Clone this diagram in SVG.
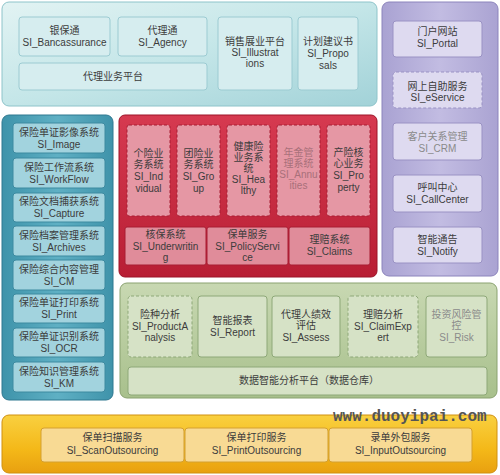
<svg xmlns="http://www.w3.org/2000/svg" width="500" height="475" viewBox="0 0 500 475">
<defs>
<linearGradient id="gTeal" x1="0" y1="0" x2="1" y2="1"><stop offset="0" stop-color="#e2f3f3"/><stop offset="0.5" stop-color="#c4e6e8"/><stop offset="1" stop-color="#a2d2d8"/></linearGradient>
<linearGradient id="gBlue" x1="0" y1="0" x2="1" y2="0"><stop offset="0" stop-color="#3e93aa"/><stop offset="0.5" stop-color="#5fb0c4"/><stop offset="1" stop-color="#3f93aa"/></linearGradient>
<linearGradient id="gRed" x1="0" y1="0" x2="0" y2="1"><stop offset="0" stop-color="#d63a50"/><stop offset="1" stop-color="#b81e34"/></linearGradient>
<linearGradient id="gPurple" x1="0" y1="0" x2="1" y2="0"><stop offset="0" stop-color="#a9a2d2"/><stop offset="0.5" stop-color="#c2bce2"/><stop offset="1" stop-color="#aaa3d2"/></linearGradient>
<linearGradient id="gGreen" x1="0" y1="0" x2="0" y2="1"><stop offset="0" stop-color="#c8d8b2"/><stop offset="1" stop-color="#a8c08c"/></linearGradient>
<linearGradient id="gOrange" x1="0" y1="0" x2="0" y2="1"><stop offset="0" stop-color="#f9d040"/><stop offset="0.6" stop-color="#f4b818"/><stop offset="1" stop-color="#e8a010"/></linearGradient>
</defs>
<style>
text{font-family:"Liberation Sans","Noto Sans CJK SC",sans-serif;font-size:10px;fill:#3c3c3c;text-anchor:middle}
.fade{fill:#8a8a8a}
.fadeR{fill:#a8707a}
.tealBox{fill:#d6edef;stroke:#9ccbd2;stroke-width:1}
.blueBox{fill:#a2d3de;stroke:#3d8aa0;stroke-width:1}
.redBox{fill:#e597a4;stroke:#a81c32;stroke-width:1;stroke-dasharray:3,2}
.redBox2{fill:#e08c9a;stroke:#a81c32;stroke-width:1}
.purBox{fill:#dedaf0;stroke:#9a92c4;stroke-width:1}
.purDash{fill:#dedaf0;stroke:#9a92c4;stroke-width:1;stroke-dasharray:3,2}
.grnBox{fill:#d6e2c6;stroke:#8ea878;stroke-width:1}
.grnDash{fill:#d6e2c6;stroke:#8ea878;stroke-width:1;stroke-dasharray:3,2}
.orgBox{fill:#f8da94;stroke:#d4a030;stroke-width:1}
.wm{font-family:"Liberation Mono","DejaVu Sans Mono",monospace;font-size:16px;font-weight:bold;fill:#555;text-anchor:start}
</style>
<rect width="500" height="475" fill="#ffffff"/>

<!-- Top channel panel -->
<g id="channel-panel">
<rect x="2" y="2" width="375" height="104" rx="7" fill="url(#gTeal)" stroke="#8ec4ca"/>
</g>
<g id="bancassurance"><rect class="tealBox" x="19" y="17" width="91" height="39" rx="3"/><text x="64.5" y="34">银保通</text><text x="64.5" y="46">SI_Bancassurance</text></g>
<g id="agency"><rect class="tealBox" x="118" y="17" width="89" height="39" rx="3"/><text x="162.5" y="34">代理通</text><text x="162.5" y="46">SI_Agency</text></g>
<g id="agent-platform"><rect class="tealBox" x="19" y="63" width="188" height="27" rx="3"/><text x="113" y="80">代理业务平台</text></g>
<g id="illustrations"><rect class="tealBox" x="218" y="17" width="74" height="73" rx="3"/><text x="255" y="45">销售展业平台</text><text x="255" y="56">SI_Illustrat</text><text x="255" y="67">ions</text></g>
<g id="proposals"><rect class="tealBox" x="298" y="17" width="60" height="73" rx="3"/><text x="328" y="45">计划建议书</text><text x="328" y="57">SI_Propo</text><text x="328" y="69">sals</text></g>

<!-- Right purple panel -->
<g id="customer-panel"><rect x="382" y="2" width="116" height="274" rx="7" fill="url(#gPurple)" stroke="#8c84bc"/></g>
<g id="portal"><rect class="purBox" x="393" y="21" width="89" height="36" rx="3"/><text x="437.5" y="35">门户网站</text><text x="437.5" y="47">SI_Portal</text></g>
<g id="eservice"><rect class="purDash" x="393" y="72" width="89" height="36" rx="3"/><text x="437.5" y="90">网上自助服务</text><text x="437.5" y="101">SI_eService</text></g>
<g id="crm"><rect class="purBox" x="393" y="123" width="89" height="37" rx="3"/><text class="fade" x="437.5" y="140">客户关系管理</text><text class="fade" x="437.5" y="152">SI_CRM</text></g>
<g id="callcenter"><rect class="purBox" x="393" y="175" width="89" height="37" rx="3"/><text x="437.5" y="191">呼叫中心</text><text x="437.5" y="203">SI_CallCenter</text></g>
<g id="notify"><rect class="purBox" x="393" y="227" width="89" height="36" rx="3"/><text x="437.5" y="243">智能通告</text><text x="437.5" y="255">SI_Notify</text></g>

<!-- Left blue panel -->
<g id="document-panel"><rect x="2" y="115" width="111" height="285" rx="7" fill="url(#gBlue)" stroke="#2f7890"/></g>
<g id="image"><rect class="blueBox" x="13" y="123" width="92" height="30" rx="3"/><text x="59" y="136">保险单证影像系统</text><text x="59" y="148">SI_Image</text></g>
<g id="workflow"><rect class="blueBox" x="13" y="158" width="92" height="30" rx="3"/><text x="59" y="171">保险工作流系统</text><text x="59" y="183">SI_WorkFlow</text></g>
<g id="capture"><rect class="blueBox" x="13" y="193" width="92" height="29" rx="3"/><text x="59" y="205">保险文档捕获系统</text><text x="59" y="217">SI_Capture</text></g>
<g id="archives"><rect class="blueBox" x="13" y="226" width="92" height="30" rx="3"/><text x="59" y="239">保险档案管理系统</text><text x="59" y="251">SI_Archives</text></g>
<g id="cm"><rect class="blueBox" x="13" y="260" width="92" height="30" rx="3"/><text x="59" y="273">保险综合内容管理</text><text x="59" y="285">SI_CM</text></g>
<g id="print"><rect class="blueBox" x="13" y="294" width="92" height="29" rx="3"/><text x="59" y="306">保险单证打印系统</text><text x="59" y="318">SI_Print</text></g>
<g id="ocr"><rect class="blueBox" x="13" y="328" width="92" height="29" rx="3"/><text x="59" y="340">保险单证识别系统</text><text x="59" y="352">SI_OCR</text></g>
<g id="km"><rect class="blueBox" x="13" y="362" width="92" height="30" rx="3"/><text x="59" y="375">保险知识管理系统</text><text x="59" y="387">SI_KM</text></g>

<!-- Red core panel -->
<g id="core-panel"><rect x="119" y="115" width="258" height="162" rx="6" fill="url(#gRed)" stroke="#9c1428"/></g>
<g id="individual"><rect class="redBox" x="127" y="125" width="43" height="91" rx="2"/><text x="148.5" y="157">个险业</text><text x="148.5" y="168">务系统</text><text x="148.5" y="180">SI_Ind</text><text x="148.5" y="192">vidual</text></g>
<g id="group"><rect class="redBox" x="177" y="125" width="43" height="91" rx="2"/><text x="198.5" y="157">团险业</text><text x="198.5" y="168">务系统</text><text x="198.5" y="180">SI_Gro</text><text x="198.5" y="192">up</text></g>
<g id="healthy"><rect class="redBox" x="227" y="125" width="43" height="91" rx="2"/><text x="248.5" y="150">健康险</text><text x="248.5" y="161">业务系</text><text x="248.5" y="172">统</text><text x="248.5" y="183">SI_Hea</text><text x="248.5" y="194">lthy</text></g>
<g id="annuities"><rect class="redBox" x="277" y="125" width="43" height="91" rx="2"/><text class="fadeR" x="298.5" y="156">年金管</text><text class="fadeR" x="298.5" y="167">理系统</text><text class="fadeR" x="298.5" y="178">SI_Annu</text><text class="fadeR" x="298.5" y="189">ities</text></g>
<g id="property"><rect class="redBox" x="327" y="125" width="43" height="91" rx="2"/><text x="348.5" y="156">产险核</text><text x="348.5" y="167">心业务</text><text x="348.5" y="179">SI_Pro</text><text x="348.5" y="191">perty</text></g>
<g id="underwriting"><rect class="redBox2" x="125" y="227" width="81" height="38" rx="2"/><text x="165.5" y="238">核保系统</text><text x="165.5" y="250">SI_Underwritin</text><text x="165.5" y="261">g</text></g>
<g id="policyservice"><rect class="redBox2" x="207" y="227" width="81" height="38" rx="2"/><text x="247.5" y="238">保单服务</text><text x="247.5" y="250">SI_PolicyServi</text><text x="247.5" y="261">ce</text></g>
<g id="claims"><rect class="redBox2" x="289" y="227" width="81" height="38" rx="2"/><text x="329.5" y="243">理赔系统</text><text x="329.5" y="255">SI_Claims</text></g>

<!-- Green analytics panel -->
<g id="analytics-panel"><rect x="120" y="283" width="377" height="115" rx="7" fill="url(#gGreen)" stroke="#8aa270"/></g>
<g id="productanalysis"><rect class="grnDash" x="128" y="296" width="64" height="61" rx="3"/><text x="160" y="318">险种分析</text><text x="160" y="330">SI_ProductA</text><text x="160" y="341">nalysis</text></g>
<g id="report"><rect class="grnBox" x="198" y="296" width="69" height="61" rx="3"/><text x="232.5" y="324">智能报表</text><text x="232.5" y="336">SI_Report</text></g>
<g id="assess"><rect class="grnBox" x="272" y="296" width="68" height="61" rx="3"/><text x="306" y="318">代理人绩效</text><text x="306" y="329">评估</text><text x="306" y="341">SI_Assess</text></g>
<g id="claimexpert"><rect class="grnDash" x="348" y="296" width="70" height="61" rx="3"/><text x="383" y="318">理赔分析</text><text x="383" y="330">SI_ClaimExp</text><text x="383" y="341">ert</text></g>
<g id="risk"><rect class="grnBox" x="426" y="296" width="61" height="61" rx="3"/><text class="fade" x="456.5" y="318">投资风险管</text><text class="fade" x="456.5" y="329">控</text><text class="fade" x="456.5" y="341">SI_Risk</text></g>
<g id="datawarehouse"><rect class="grnBox" x="128" y="367" width="359" height="28" rx="3"/><text x="309" y="384">数据智能分析平台（数据仓库）</text></g>

<!-- Orange outsourcing panel -->
<g id="outsourcing-panel"><rect x="2" y="415" width="495" height="58" rx="7" fill="url(#gOrange)" stroke="#d09010"/></g>
<g id="scan"><rect class="orgBox" x="41" y="428" width="143" height="34" rx="3"/><text x="112.5" y="441">保单扫描服务</text><text x="112.5" y="454">SI_ScanOutsourcing</text></g>
<g id="printout"><rect class="orgBox" x="185" y="428" width="143" height="34" rx="3"/><text x="256.5" y="441">保单打印服务</text><text x="256.5" y="454">SI_PrintOutsourcing</text></g>
<g id="input"><rect class="orgBox" x="329" y="428" width="143" height="34" rx="3"/><text x="400.5" y="441">录单外包服务</text><text x="400.5" y="454">SI_InputOutsourcing</text></g>

<g id="connectors"/>
<text class="wm" x="333" y="421">www.duoyipai.com</text>
</svg>
